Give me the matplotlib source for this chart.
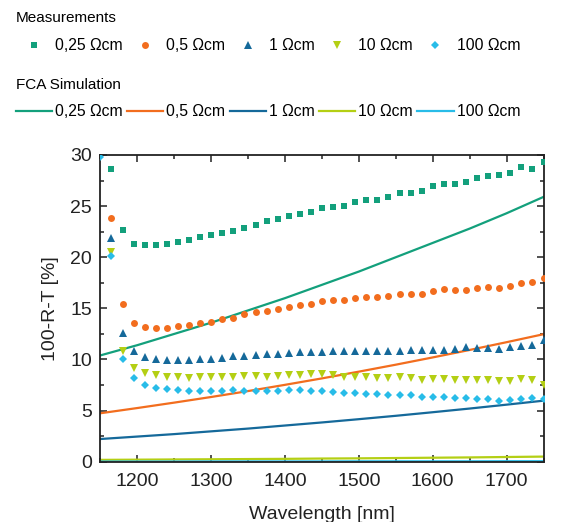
import numpy as np
import matplotlib
matplotlib.use("Agg")
import matplotlib.pyplot as plt
from matplotlib.ticker import MultipleLocator

plt.rcParams["font.family"] = ["Liberation Sans", "DejaVu Sans"]

# --- measured data (15 nm steps) ---
lam_meas = np.arange(1165, 1751, 15)
meas_025 = [28.6, 22.7, 21.3, 21.2, 21.2, 21.3, 21.5, 21.7, 22.0, 22.2,
            22.4, 22.6, 22.9, 23.2, 23.5, 23.7, 24.0, 24.2, 24.4, 24.8,
            24.9, 25.0, 25.4, 25.6, 25.6, 25.9, 26.3, 26.3, 26.5, 27.0,
            27.2, 27.2, 27.4, 27.7, 27.9, 28.0, 28.2, 28.8, 28.6, 29.3]
meas_05 = [23.8, 15.4, 13.6, 13.2, 13.1, 13.1, 13.3, 13.4, 13.6, 13.7,
           14.0, 14.1, 14.4, 14.6, 14.7, 14.9, 15.1, 15.3, 15.4, 15.7,
           15.8, 15.8, 16.0, 16.1, 16.1, 16.2, 16.4, 16.4, 16.4, 16.7,
           16.9, 16.8, 16.8, 17.0, 17.1, 17.0, 17.2, 17.5, 17.6, 18.0]
meas_1 = [21.9, 12.6, 10.8, 10.2, 10.0, 9.9, 9.9, 9.95, 10.0, 10.05,
          10.1, 10.3, 10.3, 10.4, 10.5, 10.5, 10.6, 10.7, 10.7, 10.7,
          10.8, 10.8, 10.8, 10.8, 10.8, 10.8, 10.8, 10.9, 10.9, 10.9,
          10.9, 11.0, 11.2, 11.1, 11.1, 11.0, 11.25, 11.3, 11.4, 11.9]
meas_10 = [20.5, 10.8, 9.2, 8.65, 8.5, 8.3, 8.25, 8.2, 8.25, 8.3,
           8.25, 8.3, 8.4, 8.4, 8.3, 8.4, 8.5, 8.5, 8.55, 8.55,
           8.45, 8.3, 8.3, 8.25, 8.15, 8.15, 8.25, 8.15, 8.0, 8.05,
           8.05, 8.0, 8.0, 7.95, 7.95, 7.85, 7.85, 8.05, 8.0, 7.5]
lam_meas_100 = np.concatenate([[1150], lam_meas])
meas_100 = [29.8, 20.1, 10.0, 8.15, 7.5, 7.2, 7.1, 7.0, 6.95, 6.95, 6.95,
            6.9, 7.0, 6.95, 6.9, 6.95, 6.95, 7.0, 7.0, 6.95, 6.9,
            6.8, 6.7, 6.7, 6.65, 6.6, 6.5, 6.5, 6.5, 6.35, 6.3,
            6.3, 6.25, 6.25, 6.1, 6.15, 5.95, 6.05, 6.15, 6.25, 6.1]

# --- FCA simulation (50 nm steps) ---
lam_sim = np.arange(1150, 1751, 50)
sim_025 = [10.4, 11.4, 12.5, 13.6, 14.8, 16.0, 17.3, 18.6, 20.0, 21.4, 22.8, 24.3, 25.9]
sim_05 = [4.74, 5.25, 5.78, 6.33, 6.91, 7.52, 8.15, 8.81, 9.49, 10.2, 10.93, 11.69, 12.47]
sim_1 = [2.22, 2.46, 2.70, 2.97, 3.24, 3.54, 3.84, 4.16, 4.49, 4.84, 5.2, 5.58, 5.97]
sim_10 = [0.18, 0.2, 0.22, 0.24, 0.26, 0.28, 0.31, 0.33, 0.36, 0.39, 0.42, 0.46, 0.5]
sim_100 = [0.02, 0.02, 0.02, 0.03, 0.03, 0.03, 0.03, 0.04, 0.04, 0.04, 0.04, 0.05, 0.05]

labels = ["0,25 \u03a9cm", "0,5 \u03a9cm", "1 \u03a9cm", "10 \u03a9cm", "100 \u03a9cm"]
colors = ["#13a07c", "#f26d1e", "#15699a", "#b4cf14", "#28bce8"]
markers = ["s", "o", "^", "v", "D"]

fig = plt.figure(figsize=(5.68, 5.22), dpi=100)
ax = fig.add_axes([0.1768, 0.1155, 0.7801, 0.5876])

meas_x = [lam_meas, lam_meas, lam_meas, lam_meas, lam_meas_100]
meas_y = [meas_025, meas_05, meas_1, meas_10, meas_100]
sim_y = [sim_025, sim_05, sim_1, sim_10, sim_100]

meas_handles = []
sim_handles = []
for x, y, c, m, lab in zip(meas_x, meas_y, colors, markers, labels):
    ms = 5.0 if m in ("s", "o") else 5.5
    if m == "D":
        ms = 4.5
    h, = ax.plot(x, y, linestyle="none", marker=m, color=c, markersize=ms,
                 markeredgewidth=0, label=lab, zorder=3)
    meas_handles.append(h)
for y, c, lab in zip(sim_y, colors, labels):
    h, = ax.plot(lam_sim, y, color=c, linewidth=1.6, label=lab, zorder=2)
    sim_handles.append(h)

ax.set_xlim(1150, 1750)
ax.set_ylim(0, 30)
ax.xaxis.set_major_locator(MultipleLocator(100))
ax.xaxis.set_minor_locator(MultipleLocator(50))
ax.yaxis.set_major_locator(MultipleLocator(5))
ax.yaxis.set_minor_locator(MultipleLocator(2.5))
ax.tick_params(which="both", direction="in", top=True, right=True,
               labelsize=14, colors="#222222", width=1.1)
ax.tick_params(which="major", length=5)
ax.tick_params(which="minor", length=3)
ax.tick_params(axis="x", pad=8)
ax.tick_params(axis="y", pad=6)
for s in ax.spines.values():
    s.set_linewidth(1.3)
    s.set_color("#222222")

ax.set_xlabel("Wavelength [nm]", fontsize=14, color="#222222", labelpad=12)
ax.set_ylabel("100-R-T [%]", fontsize=14, color="#222222", labelpad=8)

leg_kw = dict(ncol=5, frameon=False, fontsize=11.3, title_fontsize=11,
              handlelength=2.3, handletextpad=0.2, columnspacing=0.28,
              borderpad=0, borderaxespad=0, labelspacing=0.8,
              alignment="left", loc="upper left")
leg1 = fig.legend(handles=meas_handles, title="Measurements",
                  bbox_to_anchor=(0.028, 0.978), **leg_kw)
leg2 = fig.legend(handles=sim_handles, title="FCA Simulation",
                  bbox_to_anchor=(0.028, 0.851), **leg_kw)

fig.savefig("out.png", dpi=100)
